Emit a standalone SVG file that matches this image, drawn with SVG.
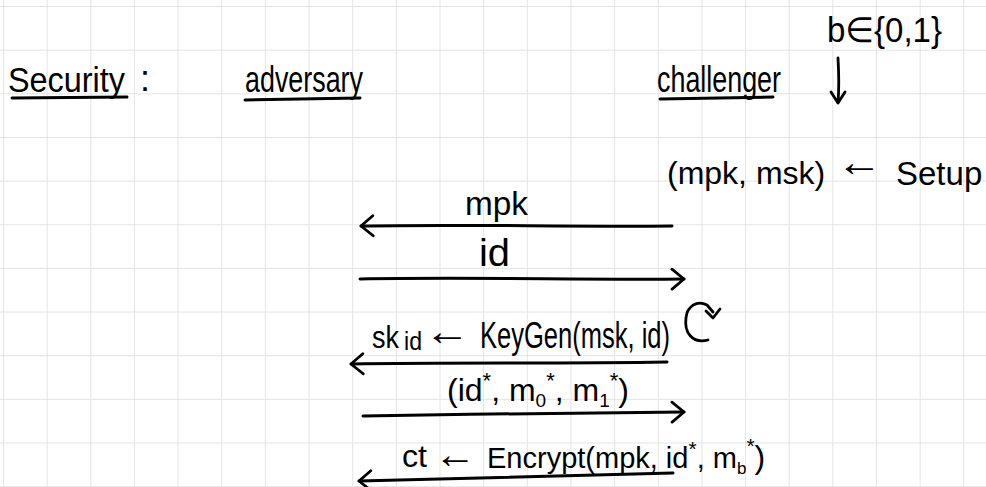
<svg xmlns="http://www.w3.org/2000/svg" width="986" height="487" viewBox="0 0 986 487">
<defs>
<pattern id="grid" x="3" y="6" width="43.65" height="43.65" patternUnits="userSpaceOnUse">
<path d="M0,0 H43.65 M0,0 V43.65" stroke="#e4e4e4" stroke-width="2" fill="none"/>
</pattern>
<marker id="chev" viewBox="0 0 16 24" refX="14" refY="12" markerWidth="16" markerHeight="24" markerUnits="userSpaceOnUse" orient="auto">
<path d="M2,2 L14,12 L2,22" fill="none" stroke="#000" stroke-width="2.8" stroke-linecap="round" stroke-linejoin="round"/>
</marker>
</defs>
<style>
text{font-family:"Liberation Sans","DejaVu Sans",sans-serif;fill:#000;}
.ul{stroke:#000;stroke-width:3;stroke-linecap:round;fill:none;}
.msg{stroke:#000;stroke-width:3;stroke-linecap:round;fill:none;marker-end:url(#chev);}
.pen{stroke:#000;stroke-width:2.8;stroke-linecap:round;stroke-linejoin:round;fill:none;}
</style>
<rect width="986" height="487" fill="#fff"/>
<rect width="986" height="487" fill="url(#grid)"/>

<g id="title">
<text x="8" y="92" font-size="35" textLength="117" lengthAdjust="spacingAndGlyphs">Security</text>
<text x="140" y="91" font-size="36">:</text>
<path class="ul" d="M12,98 L127,97"/>
</g>

<g id="adversary">
<text x="245" y="92" font-size="37" textLength="118" lengthAdjust="spacingAndGlyphs">adversary</text>
<path class="ul" d="M245,100 L360,98"/>
</g>

<g id="challenger">
<text x="657" y="92" font-size="37" textLength="124" lengthAdjust="spacingAndGlyphs">challenger</text>
<path class="ul" d="M660,99 L773,97"/>
</g>

<g id="bit-b">
<text x="827" y="42" font-size="35" textLength="115" lengthAdjust="spacingAndGlyphs">b∈{0,1}</text>
</g>

<g id="setup">
<text x="667" y="184" font-size="32">(mpk, msk)</text>
<text x="836" y="176" font-size="42" textLength="46" lengthAdjust="spacingAndGlyphs">←</text>
<text x="896" y="185" font-size="33">Setup</text>
</g>

<g id="connectors">
<path class="pen" d="M838,58 C839,75 839,90 838,103 M831,92 L838,103 L845,92"/>
<path class="msg" d="M672,226 C560,227 460,224 361,226"/>
<path class="msg" d="M360,279 C470,277 580,280 684,279"/>
<path class="msg" d="M667,362 C560,364 450,362 351,364"/>
<path class="msg" d="M363,416 C470,414 580,413 684,412"/>
<path class="msg" d="M673,473 C560,476 450,479 359,481"/>
<path class="pen" d="M708,340 C692,344 684,332 686,318 C687,306 697,300 707,305 L713,312 M706,311 L713,318 L720,309"/>
</g>

<g id="label-mpk">
<text x="465" y="215" font-size="34" textLength="63" lengthAdjust="spacingAndGlyphs">mpk</text>
</g>
<g id="label-id">
<text x="479" y="266" font-size="38" textLength="31" lengthAdjust="spacingAndGlyphs">id</text>
</g>
<g id="label-keygen">
<text x="372" y="348" font-size="32" textLength="27" lengthAdjust="spacingAndGlyphs">sk</text>
<text x="404" y="350" font-size="25" textLength="18" lengthAdjust="spacingAndGlyphs">id</text>
<text x="424" y="345" font-size="40" textLength="46" lengthAdjust="spacingAndGlyphs">←</text>
<text x="480" y="348" font-size="36" textLength="190" lengthAdjust="spacingAndGlyphs">KeyGen(msk, id)</text>
</g>
<g id="label-challenge">
<text x="447" y="401" font-size="32">(id<tspan dy="-13" font-size="22">*</tspan><tspan dy="13">, m</tspan><tspan dy="6" font-size="19">0</tspan><tspan dy="-19" font-size="22">*</tspan><tspan dy="13">, m</tspan><tspan dy="6" font-size="19">1</tspan><tspan dy="-19" font-size="22">*</tspan><tspan dy="13">)</tspan></text>
</g>
<g id="label-encrypt">
<text x="402" y="467" font-size="32" textLength="25" lengthAdjust="spacingAndGlyphs">ct</text>
<text x="434" y="468" font-size="40" textLength="42" lengthAdjust="spacingAndGlyphs">←</text>
<text x="487" y="468" font-size="29">Encrypt(mpk, id<tspan dy="-12" font-size="21">*</tspan><tspan dy="12">, m</tspan><tspan dy="6" font-size="17">b</tspan><tspan dy="-21" font-size="21">*</tspan><tspan dy="15" font-size="32">)</tspan></text>
</g>
</svg>
